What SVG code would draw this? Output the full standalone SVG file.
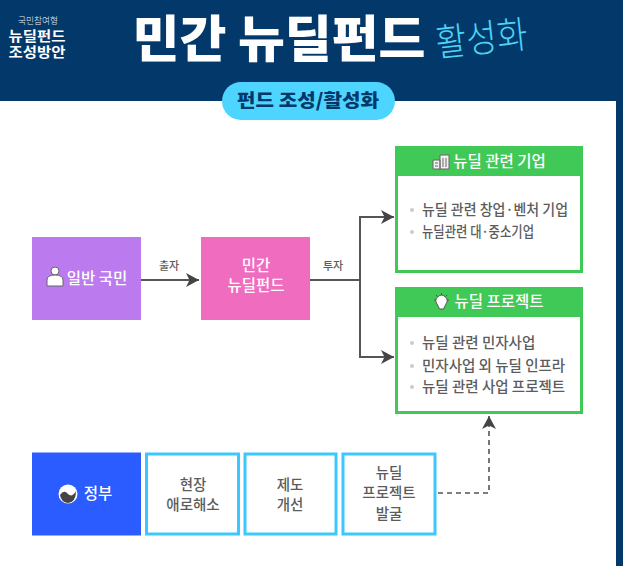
<svg xmlns="http://www.w3.org/2000/svg" width="623" height="566" viewBox="0 0 623 566">
<style>
text{font-family:"Noto Sans CJK KR","Noto Sans",sans-serif;text-anchor:middle}
.w{fill:#fff;font-size:15.5px;font-weight:500}
.g{fill:#5c5c5c;font-size:14.5px;font-weight:500}
.l{fill:#5c5c5c;font-size:14.5px;font-weight:500;text-anchor:start}
.s{fill:#5c5c5c;font-size:11px;font-weight:500}
.b{fill:#fff;stroke:#3cc8ff;stroke-width:3}
.gb{fill:#fff;stroke:#40c956;stroke-width:3}
.gh{fill:#40c956}
.d{fill:#ccc}
.c{fill:none;stroke:#555;stroke-width:2}
</style>
<defs>
<marker id="a" markerWidth="14" markerHeight="14" refX="13" refY="7" orient="auto" markerUnits="userSpaceOnUse"><path d="M0 0L13 7L0 14L3.500 7Z" fill="#444"/></marker>
</defs>
<rect width="623" height="566" fill="#03386b"/>
<rect x="0" y="101" width="616" height="465" fill="#fff"/>
<g id="header">
<text x="38" y="24" font-size="9" fill="#e8eef5" font-weight="300" textLength="40" lengthAdjust="spacingAndGlyphs">국민참여형</text>
<text x="37" y="41" font-size="13.500" font-weight="700" fill="#fff" textLength="57" lengthAdjust="spacingAndGlyphs">뉴딜펀드</text>
<text x="37" y="57" font-size="13.500" font-weight="700" fill="#fff" textLength="57" lengthAdjust="spacingAndGlyphs">조성방안</text>
<text x="279" y="57" font-size="50" font-weight="900" fill="#fff" textLength="293" lengthAdjust="spacingAndGlyphs">민간 뉴딜펀드</text>
<text x="483" y="52" font-size="38" font-weight="200" fill="#4dd4f5" textLength="92" lengthAdjust="spacingAndGlyphs" transform="rotate(-6 483 52)">활성화</text>
</g>
<g id="pill">
<rect x="222" y="82" width="173" height="38" rx="19" fill="#4dd4ff"/>
<text x="308" y="107" font-size="18.500" font-weight="900" fill="#03386b" textLength="142" lengthAdjust="spacingAndGlyphs">펀드 조성/활성화</text>
</g>
<g id="connectors">
<path class="c" d="M141 280H199" marker-end="url(#a)"/>
<path class="c" d="M310 280H360V217H394" marker-end="url(#a)"/>
<path class="c" d="M360 280V357H394" marker-end="url(#a)"/>
<path d="M438 493H489V416" fill="none" stroke="#555" stroke-width="1.600" stroke-dasharray="5 4" marker-end="url(#a)"/>
<text class="s" x="169" y="270">출자</text>
<text class="s" x="333" y="270">투자</text>
</g>
<g id="citizen">
<rect x="32" y="237" width="109" height="83" fill="#bb7bee"/>
<circle cx="55" cy="271" r="4" fill="#fff" stroke="#666" stroke-width="1"/>
<path d="M47 286V280Q47 275 55 275Q63 275 63 280V286Z" fill="#fff" stroke="#666" stroke-width="1"/>
<text class="w" x="97" y="284">일반 국민</text>
</g>
<g id="fund">
<rect x="201" y="237" width="109" height="83" fill="#f06cbf"/>
<text class="w" x="256" y="271">민간</text>
<text class="w" x="256" y="291">뉴딜펀드</text>
</g>
<g id="company">
<rect class="gb" x="396.500" y="147.500" width="185" height="124"/>
<rect class="gh" x="395" y="146" width="188" height="30"/>
<path d="M433 169V160H440V169ZM440 169V155H449V169ZM443 158V167M446 158V167M435 163H438M435 166H438" fill="#f2f2f2" stroke="#666" stroke-width="1"/>
<text class="w" x="499.500" y="167">뉴딜 관련 기업</text>
<circle class="d" cx="412" cy="210" r="2"/>
<circle class="d" cx="412" cy="232" r="2"/>
<text class="l" x="422" y="215" textLength="146" lengthAdjust="spacingAndGlyphs">뉴딜 관련 창업·벤처 기업</text>
<text class="l" x="422" y="237" textLength="112" lengthAdjust="spacingAndGlyphs">뉴딜관련 대·중소기업</text>
</g>
<g id="project">
<rect class="gb" x="396.500" y="288.500" width="185" height="124"/>
<rect class="gh" x="395" y="287" width="188" height="30"/>
<path d="M437 304A5.500 5.500 0 1 1 446 304L443.500 309H439.500Z" fill="#fff" stroke="#555" stroke-width="1"/>
<path d="M441.500 293V295M434 300H436M447 300H449M436 295L437.500 296.500M447 295L445.500 296.500" stroke="#555" fill="none"/>
<text class="w" x="499" y="307">뉴딜 프로젝트</text>
<circle class="d" cx="412" cy="343" r="2"/>
<circle class="d" cx="412" cy="366" r="2"/>
<circle class="d" cx="412" cy="387" r="2"/>
<text class="l" x="422" y="348">뉴딜 관련 민자사업</text>
<text class="l" x="422" y="371">민자사업 외 뉴딜 인프라</text>
<text class="l" x="422" y="392">뉴딜 관련 사업 프로젝트</text>
</g>
<g id="gov">
<rect x="32" y="452.500" width="109" height="83" fill="#2b5cff"/>
<circle cx="68" cy="494" r="9.500" fill="#fff"/>
<path d="M60 495Q64 489 68 494Q72 498 76 491Q76 502 68 503Q61 502 60 495Z" fill="#444"/>
<text class="w" x="98" y="499">정부</text>
</g>
<g id="site">
<rect class="b" x="146.500" y="454" width="92" height="80"/>
<text class="g" x="193" y="490">현장</text>
<text class="g" x="193" y="510">애로해소</text>
</g>
<g id="reform">
<rect class="b" x="245" y="454" width="91" height="80"/>
<text class="g" x="290" y="490">제도</text>
<text class="g" x="290" y="510">개선</text>
</g>
<g id="discover">
<rect class="b" x="343" y="454" width="92" height="80"/>
<text class="g" x="389" y="478">뉴딜</text>
<text class="g" x="389" y="498">프로젝트</text>
<text class="g" x="389" y="519">발굴</text>
</g>
</svg>
